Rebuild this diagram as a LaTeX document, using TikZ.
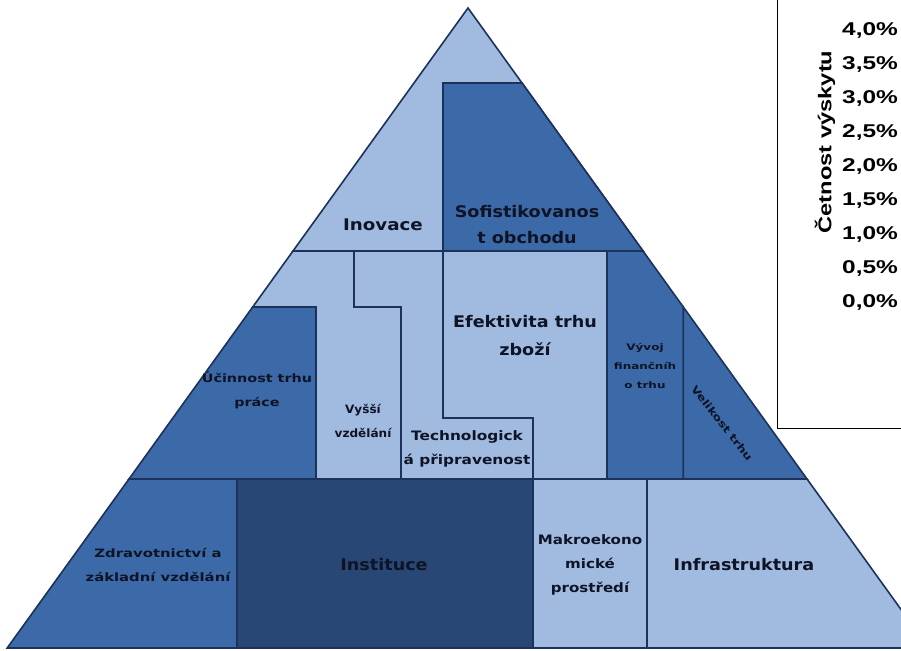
\documentclass[tikz,border=0pt]{standalone}
\usepackage{fontspec}
\usepackage{graphicx}
\setmainfont{DejaVu Sans}
\newfontfamily\fAx{Liberation Sans}
\newcommand\hstretch[2]{\scalebox{#1}[1]{\begin{tabular}{@{}c@{}}#2\end{tabular}}}
\definecolor{pyLight}{RGB}{160,186,224}
\definecolor{pyMid}{RGB}{60,105,167}
\definecolor{pyDark}{RGB}{40,71,117}
\definecolor{pyLine}{RGB}{28,50,90}
\definecolor{pyText}{RGB}{14,20,38}
\begin{document}
\begin{tikzpicture}[x=1pt,y=-1pt,
  region/.style={draw=pyLine,line width=1.6pt,line join=miter},
  lab/.style={text=pyText,inner sep=0pt},
  bigf/.style={font=\bfseries\fontsize{16}{26}\selectfont},
  effont/.style={font=\bfseries\fontsize{16}{28}\selectfont},
  medf/.style={font=\bfseries\fontsize{13}{24}\selectfont},
  smallf/.style={font=\bfseries\fontsize{11.5}{24}\selectfont},
  tinyf/.style={font=\bfseries\fontsize{9}{19}\selectfont},
  axf/.style={font=\fAx\bfseries\fontsize{18.5}{22}\selectfont,text=black,inner sep=0pt}]
\useasboundingbox (0,0) rectangle (901,650);
\fill[white] (0,0) rectangle (901,650);
\begin{scope}
\clip (0,0) rectangle (901,650);
% top tier
\filldraw[region,fill=pyLight] (468,8) -- (643,251) -- (293,251) -- cycle;
\filldraw[region,fill=pyMid] (443,83) -- (522,83) -- (643,251) -- (443,251) -- cycle;
% middle tier
\filldraw[region,fill=pyLight] (293,251) -- (354,251) -- (354,307) -- (401,307) -- (401,479) -- (316,479) -- (316,307) -- (252.7,307) -- cycle;
\filldraw[region,fill=pyMid] (252.7,307) -- (316,307) -- (316,479) -- (129,479) -- cycle;
\filldraw[region,fill=pyLight] (354,251) -- (443,251) -- (443,418) -- (533,418) -- (533,479) -- (401,479) -- (401,307) -- (354,307) -- cycle;
\filldraw[region,fill=pyLight] (443,251) -- (607,251) -- (607,479) -- (533,479) -- (533,418) -- (443,418) -- cycle;
\filldraw[region,fill=pyMid] (607,251) -- (643,251) -- (683.3,307) -- (683.3,479) -- (607,479) -- cycle;
\filldraw[region,fill=pyMid] (683.3,307) -- (807,479) -- (683.3,479) -- cycle;
% bottom tier
\filldraw[region,fill=pyMid] (129,479) -- (237,479) -- (237,648) -- (7.2,648) -- cycle;
\filldraw[region,fill=pyDark] (237,479) -- (533,479) -- (533,648) -- (237,648) -- cycle;
\filldraw[region,fill=pyLight] (533,479) -- (647,479) -- (647,648) -- (533,648) -- cycle;
\filldraw[region,fill=pyLight] (647,479) -- (807,479) -- (928.8,648) -- (647,648) -- cycle;
% labels
\node[lab,bigf] (inov) at (383,225) {\hstretch{1.14}{Inovace}};
\node[lab,bigf] (sof) at (527,225) {\hstretch{1.1}{Sofistikovanos\\t obchodu}};
\node[lab,smallf] (ucin) at (257,390) {\hstretch{1.25}{Účinnost trhu\\práce}};
\node[lab,smallf] (vys) at (363,421) {\hstretch{1.05}{Vyšší\\vzdělání}};
\node[lab,medf] (tech) at (467,448) {\hstretch{1.18}{Technologick\\á připravenost}};
\node[lab,effont] (efek) at (525,336) {\hstretch{1.1}{Efektivita trhu\\zboží}};
\node[lab,tinyf] (vyv) at (645,366) {\hstretch{1.33}{Vývoj\\finančníh\\o trhu}};
\node[lab,font=\bfseries\fontsize{10}{12}\selectfont,rotate=-52] (vel) at (721,424) {\hstretch{1.28}{Velikost trhu}};
\node[lab,smallf] (zdr) at (158,565) {\hstretch{1.29}{Zdravotnictví a\\základní vzdělání}};
\node[lab,bigf] (inst) at (384,565) {\hstretch{1.1}{Instituce}};
\node[lab,medf] (makro) at (590,564) {\hstretch{1.16}{Makroekono\\mické\\prostředí}};
\node[lab,bigf] (infra) at (744,565) {\hstretch{1.1}{Infrastruktura}};
% axis panel
\draw[black,line width=1pt] (777,0) -- (777,428) -- (901,428);
\node[axf,rotate=90] (axt) at (825,142) {\scalebox{1.28}[1]{Četnost výskytu}};
\foreach \t [count=\i from 0] in {{4,0\%},{3,5\%},{3,0\%},{2,5\%},{2,0\%},{1,5\%},{1,0\%},{0,5\%},{0,0\%}}{
  \node[axf,anchor=west] (tk\i) at (842,30+34*\i) {\scalebox{1.32}[1]{\t}};
}
\end{scope}
\end{tikzpicture}
\end{document}
